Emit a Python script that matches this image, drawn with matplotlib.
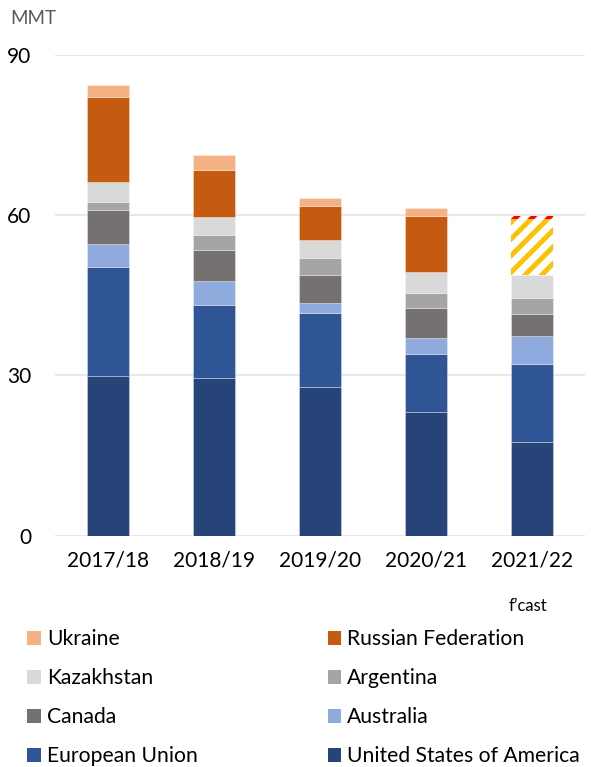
import matplotlib
matplotlib.use("Agg")
import matplotlib.pyplot as plt
from matplotlib.patches import Patch
import numpy as np

plt.rcParams['font.family'] = ['Lato', 'DejaVu Sans']
plt.rcParams['hatch.linewidth'] = 3.5

# Wheat exports by origin, MMT
seasons = ["2017/18", "2018/19", "2019/20", "2020/21", "2021/22"]
usa = [29.9, 29.5, 27.9, 23.1, 17.5]
eu = [20.3, 13.7, 13.8, 10.9, 14.6]
australia = [4.4, 4.4, 1.8, 3.0, 5.3]
canada = [6.3, 5.9, 5.3, 5.6, 4.0]
argentina = [1.5, 2.7, 3.1, 2.8, 3.1]
kazakhstan = [3.7, 3.4, 3.4, 3.9, 4.3]
russia = [15.9, 8.9, 6.4, 10.6, 10.4]
ukraine = [2.4, 2.7, 1.5, 1.4, 0.6]
forecast = [False, False, False, False, True]

series = [
    ("United States of America", usa, "#264478", None),
    ("European Union", eu, "#2F5597", None),
    ("Australia", australia, "#8FAADC", None),
    ("Canada", canada, "#767171", None),
    ("Argentina", argentina, "#A5A5A5", None),
    ("Kazakhstan", kazakhstan, "#D9D9D9", None),
    ("Russian Federation", russia, "#C55A11", "#FFC000"),
    ("Ukraine", ukraine, "#F4B183", "#FF0000"),
]

fig = plt.figure(figsize=(5.91, 7.67), dpi=100)
ax = fig.add_axes([55 / 591, 1 - 535.7 / 767, 530 / 591, (535.7 - 54.6) / 767])

x = np.arange(len(seasons))
bottom = np.zeros(len(seasons))
for name, vals, color, hatch_color in series:
    vals = np.array(vals)
    for i in range(len(seasons)):
        if forecast[i] and hatch_color is not None:
            ax.bar(x[i], vals[i], 0.39, bottom=bottom[i], facecolor="white",
                   edgecolor=hatch_color, linewidth=0, hatch="//", zorder=3)
        else:
            ax.bar(x[i], vals[i], 0.39, bottom=bottom[i], color=color,
                   edgecolor="#ffffff60", linewidth=0.6, zorder=3)
    bottom += vals

ax.set_xlim(-0.5, 4.5)
ax.set_ylim(0, 90)
ax.set_yticks([0, 30, 60, 90])
ax.set_xticks(x)
ax.set_xticklabels(seasons)
ax.tick_params(length=0, labelsize=15, colors="#000000")
ax.tick_params(axis='y', pad=17)
ax.tick_params(axis='x', pad=11)
for s in ax.spines.values():
    s.set_visible(False)
ax.grid(axis='y', color="#E8E8E8", linewidth=1.5, zorder=0)
ax.set_axisbelow(True)

fig.text(10 / 591, 1 - 18 / 767, "MMT", fontsize=13.5, color="#595959", va="center")
fig.text(528 / 591, 1 - 606 / 767, "f\u2019cast", fontsize=12, ha="center", va="center")

# legend laid out row-wise like the original
order = ["Ukraine", "Kazakhstan", "Canada", "European Union",
         "Russian Federation", "Argentina", "Australia", "United States of America"]
colors = {name: color for name, _, color, _ in series}
handles = [Patch(facecolor=colors[n], edgecolor="none") for n in order]
fig.legend(handles, order, ncol=2, loc="upper left",
           bbox_to_anchor=(19 / 591, 1 - 621 / 767), frameon=False,
           fontsize=15.2, handlelength=0.62, handleheight=0.62, handletextpad=0.3,
           labelspacing=0.9, columnspacing=6.15, borderaxespad=0)

fig.savefig("out.png", dpi=100)
